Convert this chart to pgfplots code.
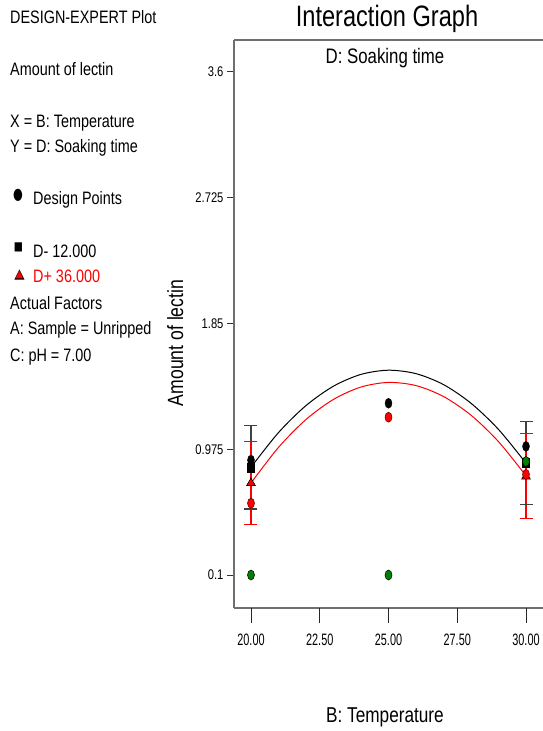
\documentclass[border=0pt]{standalone}
\usepackage{pgfplots}
\pgfplotsset{compat=1.18}
\usepackage{fontspec}
\setmainfont{Liberation Sans}[FakeStretch=0.8]
\newfontfamily\tickfont{Liberation Sans}[FakeStretch=0.66]
\newfontfamily\symfont{DejaVu Sans}
\definecolor{axgray}{HTML}{6E6E6E}
\definecolor{dgreen}{HTML}{008000}
\definecolor{ebgray}{HTML}{404040}
\newcommand\fs{\fontsize{18}{20}\selectfont}
\begin{document}
\begin{tikzpicture}[x=1pt,y=1pt]
\path[use as bounding box] (0,0) rectangle (543,731);
% left block
\node[anchor=base west, inner sep=0] at (10,707) {\fs DESIGN-EXPERT Plot};
\node[anchor=base west, inner sep=0] at (10,655) {\fs Amount of lectin};
\node[anchor=base west, inner sep=0] at (10,603) {\fs X = B: Temperature};
\node[anchor=base west, inner sep=0] at (10,578) {\fs Y = D: Soaking time};
\node[inner sep=0, xscale=0.7] at (18,536) {\symfont\fontsize{16}{16}\selectfont ●};
\node[anchor=base west, inner sep=0] at (33,526) {\fs Design Points};
\node[inner sep=0, xscale=0.8] at (18.5,484) {\symfont\fontsize{12}{12}\selectfont ■};
\node[anchor=base west, inner sep=0] at (33,473) {\fs D- 12.000};
\node[inner sep=0] at (19.5,456) {\symfont\makebox[0pt]{\fontsize{13.5}{13.5}\selectfont ▲}\makebox[0pt]{\raisebox{0.9pt}{\fontsize{10}{10}\selectfont\color{red}▲}}};
\node[anchor=base west, inner sep=0, text=red] at (33,448) {\fs D+ 36.000};
\node[anchor=base west, inner sep=0] at (10,421) {\fs Actual Factors};
\node[anchor=base west, inner sep=0] at (10,396) {\fs A: Sample = Unripped};
\node[anchor=base west, inner sep=0] at (10,369) {\fs C: pH = 7.00};
% titles and labels
\node[anchor=base, inner sep=0] at (387,704) {\fontsize{29.5}{30}\selectfont Interaction Graph};
\node[anchor=base, inner sep=0] at (385,667) {\fontsize{21}{22}\selectfont D: Soaking time};
\node[anchor=base, inner sep=0] at (385,9) {\fontsize{21.5}{22}\selectfont B: Temperature};
\node[anchor=base, inner sep=0, rotate=90] at (183,388) {\fontsize{22}{22}\selectfont Amount of lectin};
\begin{axis}[
  at={(234pt,123pt)}, anchor=south west,
  scale only axis, width=309pt, height=568pt,
  xmin=19.382, xmax=30.618, ymin=-0.1295, ymax=3.8226,
  clip=false,
  axis lines*=left,
  axis line style={-, draw=axgray, line width=1.5pt},
  xtick={20,22.5,25,27.5,30},
  xticklabels={20.00,22.50,25.00,27.50,30.00},
  ytick={0.1,0.975,1.85,2.725,3.6},
  yticklabels={0.1,0.975,1.85,2.725,3.6},
  tick align=outside, major tick length=7pt,
  x tick style={draw=none},
  y tick style={draw=black!80, line width=1pt},
  xticklabel style={font=\tickfont\fontsize{16.5}{16.5}\selectfont, anchor=base, yshift=-30pt},
  yticklabel style={font=\fontsize{14}{14}\selectfont},
]
\draw[axgray, line width=1.5pt] (rel axis cs:0,1) -- (rel axis cs:1,1);
% error bars: black (D-)
\addplot[ebgray, line width=1.2pt] coordinates {(20,0.56) (20,1.14)};
\addplot[ebgray, line width=1.2pt] coordinates {(30,0.588) (30,1.168)};
\addplot[only marks, mark=-, mark size=6.5pt, ebgray, line width=1.2pt]
  coordinates {(20,0.56) (20,1.14) (30,0.588) (30,1.168)};
% error bars: red (D+)
\addplot[red, line width=1.2pt] coordinates {(20,0.45) (20,1.03)};
\addplot[red, line width=1.2pt] coordinates {(30,0.495) (30,1.085)};
\addplot[only marks, mark=-, mark size=6.5pt, red, line width=1.2pt]
  coordinates {(20,0.45) (20,1.03) (30,0.495) (30,1.085)};
% curves
\addplot[black, line width=1pt, smooth] coordinates {
 (20,0.85) (21,1.091) (22,1.279) (23,1.414) (24,1.496) (25,1.525)
 (26,1.501) (27,1.425) (28,1.295) (29,1.113) (30,0.878)};
\addplot[red, line width=1pt, smooth] coordinates {
 (20,0.74) (21,0.988) (22,1.182) (23,1.322) (24,1.408) (25,1.44)
 (26,1.418) (27,1.342) (28,1.212) (29,1.028) (30,0.79)};
% predictions
\addplot[only marks, mark=square*, mark size=4.5pt,
  mark options={xscale=0.8, fill=black, draw=black}]
  coordinates {(20,0.85) (30,0.878)};
\addplot[only marks, mark=triangle*, mark size=5pt,
  mark options={fill=red, draw=black, line width=0.6pt}]
  coordinates {(20,0.74) (30,0.785)};
% design points
\addplot[only marks, mark=*, mark size=5pt,
  mark options={xscale=0.7, fill=black, draw=black, line width=0.4pt}]
  coordinates {(20,0.90) (20,0.87) (25,1.295) (30,0.995)};
\addplot[only marks, mark=*, mark size=5pt,
  mark options={xscale=0.7, fill=red, draw=black!70!red, line width=0.5pt}]
  coordinates {(20,0.60) (25,1.198) (30,0.80)};
\addplot[only marks, mark=*, mark size=5pt,
  mark options={xscale=0.7, fill=dgreen, draw=black, line width=0.5pt}]
  coordinates {(20,0.1) (25,0.1) (30,0.89)};
\end{axis}
% x tick marks below the axis
\foreach \xx in {251,319.75,388.5,457.25,526}{
  \draw[black!85, line width=1pt] (\xx,123) -- (\xx,108);
}
\end{tikzpicture}
\end{document}
